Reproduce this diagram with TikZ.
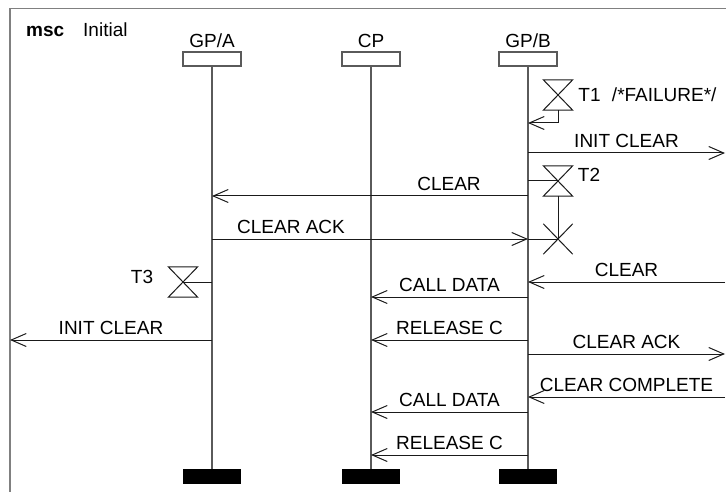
\documentclass[tikz,border=0pt]{standalone}
\usepackage{fontspec}
\setmainfont{Liberation Sans}
\usetikzlibrary{arrows.meta,positioning}
\definecolor{life}{HTML}{5A5A5A}
\definecolor{framecol}{HTML}{808080}
\definecolor{ink}{HTML}{1A1A1A}

\begin{document}
\begin{tikzpicture}[
  x=1pt, y=-1pt,
  font=\fontsize{19}{22}\selectfont,
  head/.style={draw=life, line width=1.2pt, minimum width=58pt, minimum height=14pt, inner sep=0pt},
  tail/.style={fill=black, minimum width=58pt, minimum height=15pt, inner sep=0pt},
  life/.style={draw=life, line width=1.3pt},
  msg/.style={draw=ink, line width=1pt, -{Straight Barb[length=15pt,width=13pt]}},
  lbl/.style={inner sep=0pt, anchor=base, yshift=5.5pt},
  timer/.style={minimum width=29pt, minimum height=30pt, inner sep=0pt},
  tmr/.style={draw=ink, line width=1pt},
]
\useasboundingbox (0,0) rectangle (726,492);
\draw[framecol, line width=1.5pt] (726,8.5) -| (10,492);
\node[anchor=base west, inner sep=0pt] (title) at (26,37) {\textbf{msc}};
\node[anchor=base west, inner sep=0pt] (name) at (83,37) {Initial};
\coordinate (envL) at (10,0);
\coordinate (envR) at (725,0);
% instances
\foreach \n/\x/\t in {ga/212/{GP/A}, cp/371/{CP}, gb/528/{GP/B}} {
  \node[head] (\n) at (\x,59) {};
  \node[anchor=base, inner sep=0pt] (l\n) at ([yshift=4pt]\n.north) {\t};
  \node[tail] (e\n) at (\x,476.5) {};
  \draw[life] (\n.south) -- (e\n.north);
}
% timers
\node[timer] (t1) at (558,95) {};
\node[timer] (t2) at (558,181) {};
\node[timer] (t3) at (183,282) {};
\node[timer] (x2) at (558,239) {};
\foreach \t in {t1,t2,t3}
  \draw[tmr] (\t.north west) -- (\t.north east) -- (\t.south west) -- (\t.south east) -- cycle;
\draw[tmr] (x2.north west) -- (x2.south east) (x2.north east) -- (x2.south west);
\node[inner sep=0pt, right=5.5pt of t1] (t1l) {T1\hspace{0.6em}/*FAILURE*/};
\node[inner sep=0pt, right=5pt of t2, yshift=6pt] (t2l) {T2};
\node[inner sep=0pt, left=15pt of t3, yshift=5.5pt] (t3l) {T3};
\draw[msg] (t1.south) |- (gb |- 0,123);
\draw[tmr] (gb |- t2) -- (t2.center);
\draw[tmr] (t2.south) -- (x2.center);
\draw[tmr] (gb |- x2) -- (x2.center);
\draw[tmr] (t3.center) -- (ga |- t3);
% messages
\foreach \a/\b/\y/\p/\m in {
  gb/envR/153/0.5/INIT CLEAR,
  gb/ga/196/0.25/CLEAR,
  ga/gb/239/0.25/CLEAR ACK,
  envR/gb/282/0.5/CLEAR,
  gb/cp/297/0.5/CALL DATA,
  ga/envL/340/0.5/INIT CLEAR,
  gb/cp/340/0.5/RELEASE C,
  gb/envR/354/0.5/CLEAR ACK,
  envR/gb/397/0.5/CLEAR COMPLETE,
  gb/cp/412/0.5/CALL DATA,
  gb/cp/455/0.5/RELEASE C}
  \draw[msg] (\a |- 0,\y) -- node[lbl, pos=\p] {\m} (\b |- 0,\y);
\end{tikzpicture}
\end{document}
